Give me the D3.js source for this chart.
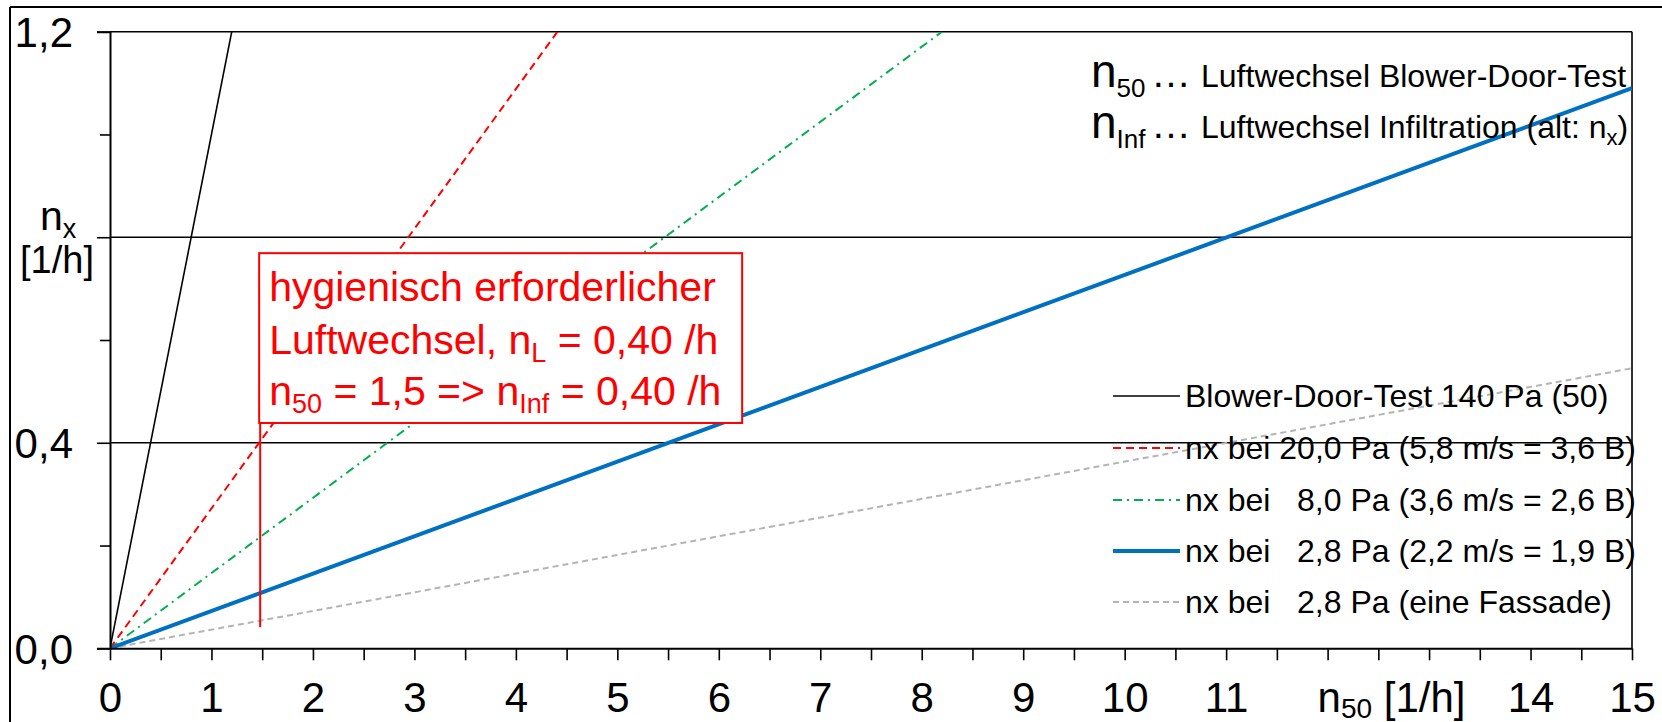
<!DOCTYPE html>
<html>
<head>
<meta charset="utf-8">
<script src="https://cdn.jsdelivr.net/npm/d3@7"></script>
<style>
html,body{margin:0;padding:0;background:#fff;}
svg{display:block;font-family:"Liberation Sans",Arial,sans-serif;}
text{white-space:pre;}
</style>
</head>
<body>
<svg id="chart" width="1662" height="722"></svg>
<script>
// ---------- data ----------
const seriesNames = [
  "Blower-Door-Test 140 Pa (50)",
  "nx bei 20,0 Pa (5,8 m/s = 3,6 B)",
  "nx bei   8,0 Pa (3,6 m/s = 2,6 B)",
  "nx bei   2,8 Pa (2,2 m/s = 1,9 B)",
  "nx bei   2,8 Pa (eine Fassade)"
];
const blowerX = [0, 1.2],  blowerY = [0, 1.2];
const pa20X   = [0, 4.41], pa20Y   = [0, 1.2];
const pa8X    = [0, 8.2],  pa8Y    = [0, 1.2];
const pa28X   = [0, 15],   pa28Y   = [0, 1.09];
const facadeX = [0, 15],   facadeY = [0, 0.545];
const xTicks = [0,0.5,1,1.5,2,2.5,3,3.5,4,4.5,5,5.5,6,6.5,7,7.5,8,8.5,9,9.5,10,10.5,11,11.5,12,12.5,13,13.5,14,14.5,15];
const xTickLabels = ["0","1","2","3","4","5","6","7","8","9","10","11","","","14","15"];
const yTicks = [0,0.2,0.4,0.6,0.8,1.0,1.2];
const yTickLabels = ["0,0","","0,4","","","","1,2"];
const gridValues = [0.4, 0.8, 1.2];
const markerX = 1.48, markerY = [0.041, 0.44];
const boxX = [1.47, 6.23], boxY = [0.4385, 0.769];

// ---------- styles ----------
const colors = ["#000000","#ff0000","#00b050","#0070c0","#b4b4b4"];
const widths = [1.6, 2, 2, 4, 2];
const dashes = [null, "8,5", "9,5,2,5", null, "6,4"];

const svg = d3.select("#chart");
const x = d3.scaleLinear().domain([0,15]).range([110,1632]);
const y = d3.scaleLinear().domain([0,1.2]).range([648.3,31.7]);

// outer frame
svg.append("line").attr("x1",10).attr("x2",10).attr("y1",7).attr("y2",722).attr("stroke","#000").attr("stroke-width",2);
svg.append("line").attr("x1",10).attr("x2",1662).attr("y1",7).attr("y2",7).attr("stroke","#000").attr("stroke-width",2);

// clip
svg.append("clipPath").attr("id","plotclip").append("rect")
  .attr("x",x(0)).attr("y",y(1.2)).attr("width",x(15)-x(0)).attr("height",y(0)-y(1.2));

// gridlines
svg.append("g").selectAll("line").data(gridValues).join("line")
  .attr("x1",x(0)).attr("x2",x(15)).attr("y1",d=>y(d)).attr("y2",d=>y(d))
  .attr("stroke","#000").attr("stroke-width",1.6);
// right border
svg.append("line").attr("x1",x(15)).attr("x2",x(15)).attr("y1",y(0)).attr("y2",y(1.2)).attr("stroke","#000").attr("stroke-width",1.6);

// series
const seriesData = [[blowerX,blowerY],[pa20X,pa20Y],[pa8X,pa8Y],[pa28X,pa28Y],[facadeX,facadeY]];
const lineGen = d3.line().x(d=>x(d[0])).y(d=>y(d[1]));
const order = [4,2,1,0,3];
const gS = svg.append("g").attr("clip-path","url(#plotclip)");
order.forEach(i=>{
  const pts = seriesData[i][0].map((v,k)=>[v, seriesData[i][1][k]]);
  gS.append("path").attr("d",lineGen(pts)).attr("fill","none")
    .attr("stroke",colors[i]).attr("stroke-width",widths[i])
    .attr("stroke-dasharray",dashes[i]);
});

// annotation marker + box
svg.append("line").attr("x1",x(markerX)).attr("x2",x(markerX)).attr("y1",y(markerY[0])).attr("y2",y(markerY[1]))
  .attr("stroke","#ff0000").attr("stroke-width",2);
svg.append("rect").attr("x",x(boxX[0])).attr("y",y(boxY[1]))
  .attr("width",x(boxX[1])-x(boxX[0])).attr("height",y(boxY[0])-y(boxY[1]))
  .attr("fill","#fff").attr("stroke","#ff0000").attr("stroke-width",2);
const bx = x(boxX[0]) + 10;
svg.append("text").attr("x",bx).attr("y",301).attr("fill","#ff0000").attr("font-size",41).text("hygienisch erforderlicher");
const t2 = svg.append("text").attr("x",bx).attr("y",354).attr("fill","#ff0000").attr("font-size",41);
t2.append("tspan").text("Luftwechsel, n");
t2.append("tspan").attr("font-size",27).attr("dy",8).text("L");
t2.append("tspan").attr("dy",-8).text(" = 0,40 /h");
const t3 = svg.append("text").attr("x",bx).attr("y",405).attr("fill","#ff0000").attr("font-size",41);
t3.append("tspan").text("n");
t3.append("tspan").attr("font-size",27).attr("dy",8).text("50");
t3.append("tspan").attr("dy",-8).text(" = 1,5 => n");
t3.append("tspan").attr("font-size",27).attr("dy",8).text("Inf");
t3.append("tspan").attr("dy",-8).text(" = 0,40 /h");

// x axis
const xAxis = d3.axisBottom(x).tickValues(xTicks).tickSize(12).tickSizeOuter(0)
  .tickFormat(d => Number.isInteger(d) ? xTickLabels[d] : "");
const gx = svg.append("g").attr("transform",`translate(0,${y(0)})`).call(xAxis);
gx.select(".domain").attr("stroke-width",2);
gx.selectAll(".tick line").attr("stroke-width",1.6);
gx.selectAll(".tick text").filter(function(){ return this.textContent === ""; }).remove();
gx.selectAll(".tick text").attr("font-size",42).attr("font-family","Liberation Sans, Arial, sans-serif")
  .attr("fill","#000").attr("dy",null).attr("y",64);
// x axis title
const xt = svg.append("text").attr("x",x(12.63)).attr("y",712).attr("text-anchor","middle").attr("font-size",42);
xt.append("tspan").text("n");
xt.append("tspan").attr("font-size",28).attr("dy",6).text("50");
xt.append("tspan").attr("dy",-6).text(" [1/h]");

// y axis
const yAxis = d3.axisLeft(y).tickValues(yTicks).tickSizeOuter(0)
  .tickSize(13).tickFormat((d,i)=>yTickLabels[i]);
const gy = svg.append("g").attr("transform",`translate(${x(0)},0)`).call(yAxis);
gy.select(".domain").attr("stroke-width",2);
gy.selectAll(".tick line").attr("stroke-width",1.6)
  .attr("x2",(d,i)=> yTickLabels[i]!=="" || d===0.8 ? -13 : -10);
gy.selectAll(".tick text").filter(function(){ return this.textContent === ""; }).remove();
gy.selectAll(".tick text").attr("font-size",42).attr("font-family","Liberation Sans, Arial, sans-serif")
  .attr("fill","#000").attr("x",-37).attr("dy","0.36em");
// y axis title
const yt = svg.append("text").attr("x",40).attr("y",230).attr("font-size",41);
yt.append("tspan").text("n");
yt.append("tspan").attr("font-size",27).attr("dy",8).text("x");
svg.append("text").attr("x",57).attr("y",273).attr("text-anchor","middle").attr("font-size",38).text("[1/h]");

// definitions top right
const defs = [["50","Luftwechsel Blower-Door-Test",87],["Inf","Luftwechsel Infiltration (alt: n",138]];
defs.forEach((d,i)=>{
  const t = svg.append("text").attr("x",1091).attr("y",d[2]).attr("font-size",46);
  t.append("tspan").text("n");
  t.append("tspan").attr("font-size",26).attr("dy",10).text(d[0]);
  svg.append("text").attr("x",1151).attr("y",d[2]).attr("font-size",40).text("…");
  const u = svg.append("text").attr("x",1201).attr("y",d[2]).attr("font-size",32);
  u.append("tspan").text(d[1]);
  if(i===1){
    u.append("tspan").attr("font-size",22).attr("dy",7).text("x");
    u.append("tspan").attr("dy",-7).text(")");
  }
});

// legend
const legRows = [396, 448, 500, 551, 602];
const gl = svg.append("g");
seriesNames.forEach((name,i)=>{
  gl.append("line").attr("x1",1113).attr("x2",1180).attr("y1",legRows[i]).attr("y2",legRows[i])
    .attr("stroke",colors[i]).attr("stroke-width",widths[i]).attr("stroke-dasharray",dashes[i]);
  gl.append("text").attr("x",1185).attr("y",legRows[i]+11).attr("font-size",32).text(name);
});
</script>
</body>
</html>
